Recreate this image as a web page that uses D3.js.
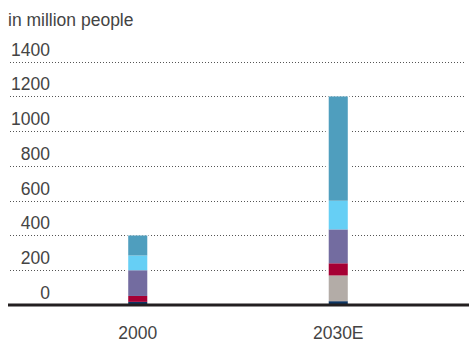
<!DOCTYPE html>
<html>
<head>
<meta charset="utf-8">
<script src="https://cdn.jsdelivr.net/npm/d3@7"></script>
<style>
  html, body { margin: 0; padding: 0; background: #fff; }
  svg { display: block; }
  text { font-family: "Liberation Sans", Arial, sans-serif; fill: #444; }
</style>
</head>
<body>
<svg id="chart" width="469" height="342"></svg>
<script>
// Population by segment, stacked bottom to top (million people)
const years = ["2000", "2030E"];
const segments = ["navy", "grey", "red", "purple", "lightblue", "teal"];
const navy      = [18, 22];
const grey      = [0, 148];
const red       = [34, 70];
const purple    = [148, 195];
const lightblue = [85, 165];
const teal      = [115, 600];
const yTicks = [0, 200, 400, 600, 800, 1000, 1200, 1400];

const colors = {
  navy: "#0d3561",
  grey: "#b3aca7",
  red: "#a60034",
  purple: "#736ca0",
  lightblue: "#66cff5",
  teal: "#4f9ebe"
};

const seriesValues = { navy, grey, red, purple, lightblue, teal };
const rows = years.map((yr, i) => {
  const r = { year: yr };
  segments.forEach(s => r[s] = seriesValues[s][i]);
  return r;
});

const svg = d3.select("#chart");
const W = 469;
const fontSize = 17.5;

const y = d3.scaleLinear().domain([0, 1400]).range([305, 61.7]);
const x = d3.scaleBand().domain(years).range([38, 438]).paddingInner(0.905).paddingOuter(0.45);

// Title
svg.append("text")
  .attr("x", 8).attr("y", 26)
  .attr("font-size", fontSize)
  .text("in million people");

// Dotted gridlines and tick labels
const gridTicks = yTicks.filter(t => t > 0);
svg.append("g").selectAll("line").data(gridTicks).join("line")
  .attr("x1", 10).attr("x2", 464)
  .attr("y1", d => Math.round(y(d)) + 0.5).attr("y2", d => Math.round(y(d)) + 0.5)
  .attr("stroke", "#555")
  .attr("stroke-width", 1)
  .attr("stroke-dasharray", "1,2");

svg.append("g").selectAll("text").data(yTicks).join("text")
  .attr("x", 50)
  .attr("y", d => y(d) - 6)
  .attr("text-anchor", "end")
  .attr("font-size", fontSize)
  .text(d => d);

// Stacked bars
const stack = d3.stack().keys(segments)(rows);
const bw = x.bandwidth();

// White backing so gridlines stop short of each bar
svg.append("g").selectAll("rect").data(rows).join("rect")
  .attr("x", d => x(d.year) - 3)
  .attr("width", bw + 6)
  .attr("y", d => y(d3.sum(segments, s => d[s])))
  .attr("height", d => y(0) - y(d3.sum(segments, s => d[s])))
  .attr("fill", "#fff");

svg.append("g").selectAll("g").data(stack).join("g")
  .attr("fill", d => colors[d.key])
  .selectAll("rect").data(d => d).join("rect")
  .attr("x", d => x(d.data.year))
  .attr("width", bw)
  .attr("y", d => y(d[1]))
  .attr("height", d => y(d[0]) - y(d[1]));

// Baseline
svg.append("line")
  .attr("x1", 8).attr("x2", W)
  .attr("y1", 305).attr("y2", 305)
  .attr("stroke", "#231f20")
  .attr("stroke-width", 3);

// Category labels
svg.append("g").selectAll("text").data(years).join("text")
  .attr("x", d => x(d) + bw / 2)
  .attr("y", 339)
  .attr("text-anchor", "middle")
  .attr("font-size", fontSize)
  .text(d => d);
</script>
</body>
</html>
